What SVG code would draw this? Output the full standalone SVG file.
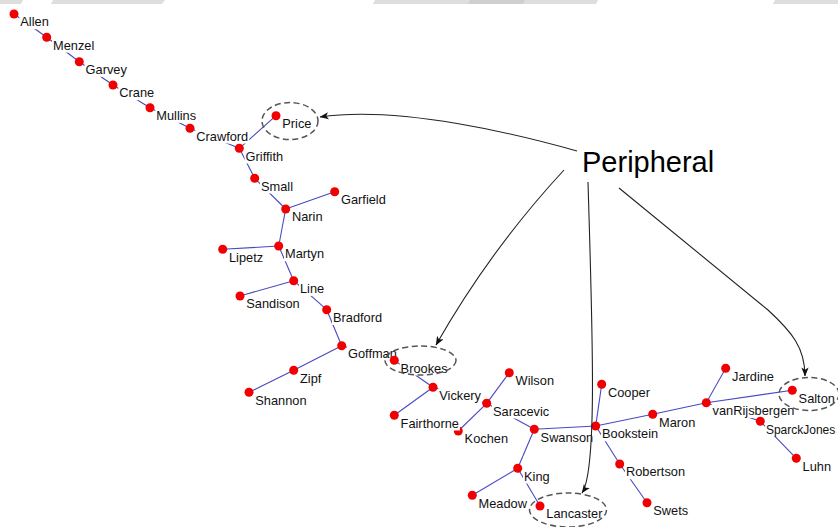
<svg xmlns="http://www.w3.org/2000/svg" width="838" height="527" viewBox="0 0 838 527">
  <style>
    .edge { stroke: #4848c4; stroke-width: 1.1; fill: none; }
    .dot { fill: #f00000; }
    .bg { fill: #ffffff; }
    .lbl { font-family: "Liberation Sans", Arial, sans-serif; font-size: 12.8px; fill: #111; }
    .lbl.tight { font-size: 12px; }
    .ring { fill: none; stroke: #555; stroke-width: 1.5; stroke-dasharray: 6 3.5; }
    .pointer { fill: none; stroke: #222; stroke-width: 1.1; marker-end: url(#arrowhead); }
    .title { font-family: "Liberation Sans", Arial, sans-serif; font-size: 29px; fill: #000; }
    .band { fill: #dedede; }
  </style>
  <defs>
    <marker id="arrowhead" viewBox="0 0 10 8" refX="9.5" refY="4" markerWidth="9" markerHeight="7.5" orient="auto" markerUnits="userSpaceOnUse">
      <path d="M0,0 L10,4 L0,8 L2.5,4 z" fill="#111"/>
    </marker>
  </defs>

  <rect width="838" height="527" fill="#ffffff"/>

  <!-- faint strip along the top edge -->
  <g id="top-strip">
    <polygon class="band" points="0,0 23,0 21,4 0,4"/>
    <polygon class="band" points="53,0 165,0 162,4 51,4"/>
    <polygon class="band" points="375,0 598,0 596,4 373,4"/>
    <polygon fill="#cfcfcf" points="470,0 525,0 523,4 468,4"/>
    <polygon class="band" points="775,0 838,0 838,4 773,4"/>
  </g>

  <!-- tree links -->
  <g id="connectors">
    <line class="edge" x1="14" y1="14" x2="46.7" y2="37.3"/>
    <line class="edge" x1="46.7" y1="37.3" x2="79.3" y2="61.7"/>
    <line class="edge" x1="79.3" y1="61.7" x2="113" y2="85"/>
    <line class="edge" x1="113" y1="85" x2="150" y2="107.7"/>
    <line class="edge" x1="150" y1="107.7" x2="190" y2="128.3"/>
    <line class="edge" x1="190" y1="128.3" x2="239.3" y2="148.3"/>
    <line class="edge" x1="239.3" y1="148.3" x2="276" y2="115.7"/>
    <line class="edge" x1="239.3" y1="148.3" x2="254.7" y2="178.3"/>
    <line class="edge" x1="254.7" y1="178.3" x2="285.7" y2="209"/>
    <line class="edge" x1="285.7" y1="209" x2="334.7" y2="191.7"/>
    <line class="edge" x1="285.7" y1="209" x2="278.7" y2="246"/>
    <line class="edge" x1="278.7" y1="246" x2="222.7" y2="249.3"/>
    <line class="edge" x1="278.7" y1="246" x2="293.7" y2="280.7"/>
    <line class="edge" x1="293.7" y1="280.7" x2="240" y2="296"/>
    <line class="edge" x1="293.7" y1="280.7" x2="326.7" y2="309.7"/>
    <line class="edge" x1="326.7" y1="309.7" x2="341.7" y2="345.7"/>
    <line class="edge" x1="341.7" y1="345.7" x2="293.7" y2="370.3"/>
    <line class="edge" x1="293.7" y1="370.3" x2="249" y2="392.3"/>
    <line class="edge" x1="341.7" y1="345.7" x2="394.3" y2="360.3"/>
    <line class="edge" x1="394.3" y1="360.3" x2="433" y2="387.3"/>
    <line class="edge" x1="433" y1="387.3" x2="394.3" y2="415.3"/>
    <line class="edge" x1="433" y1="387.3" x2="486.7" y2="403.3"/>
    <line class="edge" x1="486.7" y1="403.3" x2="509.3" y2="372.7"/>
    <line class="edge" x1="486.7" y1="403.3" x2="458.3" y2="431"/>
    <line class="edge" x1="486.7" y1="403.3" x2="534.3" y2="429.3"/>
    <line class="edge" x1="534.3" y1="429.3" x2="517.7" y2="468.3"/>
    <line class="edge" x1="517.7" y1="468.3" x2="472.3" y2="495.3"/>
    <line class="edge" x1="517.7" y1="468.3" x2="540" y2="506"/>
    <line class="edge" x1="534.3" y1="429.3" x2="595.7" y2="426"/>
    <line class="edge" x1="595.7" y1="426" x2="601.7" y2="384.3"/>
    <line class="edge" x1="595.7" y1="426" x2="619.7" y2="464"/>
    <line class="edge" x1="619.7" y1="464" x2="647" y2="502.7"/>
    <line class="edge" x1="595.7" y1="426" x2="652.7" y2="414.3"/>
    <line class="edge" x1="652.7" y1="414.3" x2="706.3" y2="402.7"/>
    <line class="edge" x1="706.3" y1="402.7" x2="725.7" y2="368.3"/>
    <line class="edge" x1="706.3" y1="402.7" x2="792.3" y2="390.3"/>
    <line class="edge" x1="706.3" y1="402.7" x2="760.3" y2="421.3"/>
    <line class="edge" x1="760.3" y1="421.3" x2="796.3" y2="458.3"/>
  </g>

  <!-- author nodes: dot plus label on an opaque backing -->
  <g id="n-Allen" transform="translate(14,14)"><circle class="dot" r="4.5"/><rect class="bg" x="5.3" y="1" width="30.5" height="14.2"/><text class="lbl" x="6.3" y="12.3">Allen</text></g>
  <g id="n-Menzel" transform="translate(46.7,37.3)"><circle class="dot" r="4.5"/><rect class="bg" x="5.3" y="1" width="43.3" height="14.2"/><text class="lbl" x="6.3" y="12.3">Menzel</text></g>
  <g id="n-Garvey" transform="translate(79.3,61.7)"><circle class="dot" r="4.5"/><rect class="bg" x="5.3" y="1" width="43.3" height="14.2"/><text class="lbl" x="6.3" y="12.3">Garvey</text></g>
  <g id="n-Crane" transform="translate(113,85)"><circle class="dot" r="4.5"/><rect class="bg" x="5.3" y="1" width="36.9" height="14.2"/><text class="lbl" x="6.3" y="12.3">Crane</text></g>
  <g id="n-Mullins" transform="translate(150,107.7)"><circle class="dot" r="4.5"/><rect class="bg" x="5.3" y="1" width="41.8" height="14.2"/><text class="lbl" x="6.3" y="12.3">Mullins</text></g>
  <g id="n-Crawford" transform="translate(190,128.3)"><circle class="dot" r="4.5"/><rect class="bg" x="5.3" y="1" width="53.9" height="14.2"/><text class="lbl" x="6.3" y="12.3">Crawford</text></g>
  <g id="n-Griffith" transform="translate(239.3,148.3)"><circle class="dot" r="4.5"/><rect class="bg" x="5.3" y="1" width="39.7" height="14.2"/><text class="lbl" x="6.3" y="12.3">Griffith</text></g>
  <g id="n-Price" transform="translate(276,115.7)"><circle class="dot" r="4.5"/><rect class="bg" x="5.3" y="1" width="31.2" height="14.2"/><text class="lbl" x="6.3" y="12.3">Price</text></g>
  <g id="n-Small" transform="translate(254.7,178.3)"><circle class="dot" r="4.5"/><rect class="bg" x="5.3" y="1" width="34" height="14.2"/><text class="lbl" x="6.3" y="12.3">Small</text></g>
  <g id="n-Narin" transform="translate(285.7,209)"><circle class="dot" r="4.5"/><rect class="bg" x="5.3" y="1" width="32.6" height="14.2"/><text class="lbl" x="6.3" y="12.3">Narin</text></g>
  <g id="n-Garfield" transform="translate(334.7,191.7)"><circle class="dot" r="4.5"/><rect class="bg" x="5.3" y="1" width="46.8" height="14.2"/><text class="lbl" x="6.3" y="12.3">Garfield</text></g>
  <g id="n-Martyn" transform="translate(278.7,246)"><circle class="dot" r="4.5"/><rect class="bg" x="5.3" y="1" width="41.1" height="14.2"/><text class="lbl" x="6.3" y="12.3">Martyn</text></g>
  <g id="n-Lipetz" transform="translate(222.7,249.3)"><circle class="dot" r="4.5"/><rect class="bg" x="5.3" y="1" width="36.2" height="14.2"/><text class="lbl" x="6.3" y="12.3">Lipetz</text></g>
  <g id="n-Line" transform="translate(293.7,280.7)"><circle class="dot" r="4.5"/><rect class="bg" x="5.3" y="1" width="26.2" height="14.2"/><text class="lbl" x="6.3" y="12.3">Line</text></g>
  <g id="n-Sandison" transform="translate(240,296)"><circle class="dot" r="4.5"/><rect class="bg" x="5.3" y="1" width="55.4" height="14.2"/><text class="lbl" x="6.3" y="12.3">Sandison</text></g>
  <g id="n-Bradford" transform="translate(326.7,309.7)"><circle class="dot" r="4.5"/><rect class="bg" x="5.3" y="1" width="51.1" height="14.2"/><text class="lbl" x="6.3" y="12.3">Bradford</text></g>
  <g id="n-Goffman" transform="translate(341.7,345.7)"><circle class="dot" r="4.5"/><rect class="bg" x="5.3" y="1" width="51.1" height="14.2"/><text class="lbl" x="6.3" y="12.3">Goffman</text></g>
  <g id="n-Zipf" transform="translate(293.7,370.3)"><circle class="dot" r="4.5"/><rect class="bg" x="5.3" y="1" width="23.3" height="14.2"/><text class="lbl" x="6.3" y="12.3">Zipf</text></g>
  <g id="n-Shannon" transform="translate(249,392.3)"><circle class="dot" r="4.5"/><rect class="bg" x="5.3" y="1" width="53.2" height="14.2"/><text class="lbl" x="6.3" y="12.3">Shannon</text></g>
  <g id="n-Brookes" transform="translate(394.3,360.3)"><circle class="dot" r="4.5"/><rect class="bg" x="5.3" y="1" width="49" height="14.2"/><text class="lbl" x="6.3" y="12.3">Brookes</text></g>
  <g id="n-Vickery" transform="translate(433,387.3)"><circle class="dot" r="4.5"/><rect class="bg" x="5.3" y="1" width="44" height="14.2"/><text class="lbl" x="6.3" y="12.3">Vickery</text></g>
  <g id="n-Kochen" transform="translate(458.3,431)"><circle class="dot" r="4.5"/><rect class="bg" x="5.3" y="1" width="45.4" height="14.2"/><text class="lbl" x="6.3" y="12.3">Kochen</text></g>
  <g id="n-Fairthorne" transform="translate(394.3,415.3)"><circle class="dot" r="4.5"/><rect class="bg" x="5.3" y="1" width="60.3" height="14.2"/><text class="lbl" x="6.3" y="12.3">Fairthorne</text></g>
  <g id="n-Wilson" transform="translate(509.3,372.7)"><circle class="dot" r="4.5"/><rect class="bg" x="5.3" y="1" width="40.4" height="14.2"/><text class="lbl" x="6.3" y="12.3">Wilson</text></g>
  <g id="n-Saracevic" transform="translate(486.7,403.3)"><circle class="dot" r="4.5"/><rect class="bg" x="5.3" y="1" width="58.2" height="14.2"/><text class="lbl" x="6.3" y="12.3">Saracevic</text></g>
  <g id="n-Swanson" transform="translate(534.3,429.3)"><circle class="dot" r="4.5"/><rect class="bg" x="5.3" y="1" width="54.6" height="14.2"/><text class="lbl" x="6.3" y="12.3">Swanson</text></g>
  <g id="n-King" transform="translate(517.7,468.3)"><circle class="dot" r="4.5"/><rect class="bg" x="5.3" y="1" width="27.6" height="14.2"/><text class="lbl" x="6.3" y="12.3">King</text></g>
  <g id="n-Meadow" transform="translate(472.3,495.3)"><circle class="dot" r="4.5"/><rect class="bg" x="5.3" y="1" width="50.4" height="14.2"/><text class="lbl" x="6.3" y="12.3">Meadow</text></g>
  <g id="n-Lancaster" transform="translate(540,506)"><circle class="dot" r="4.5"/><rect class="bg" x="5.3" y="1" width="58.2" height="14.2"/><text class="lbl" x="6.3" y="12.3">Lancaster</text></g>
  <g id="n-Cooper" transform="translate(601.7,384.3)"><circle class="dot" r="4.5"/><rect class="bg" x="5.3" y="1" width="44" height="14.2"/><text class="lbl" x="6.3" y="12.3">Cooper</text></g>
  <g id="n-Bookstein" transform="translate(595.7,426)"><circle class="dot" r="4.5"/><rect class="bg" x="5.3" y="1" width="58.2" height="14.2"/><text class="lbl" x="6.3" y="12.3">Bookstein</text></g>
  <g id="n-Maron" transform="translate(652.7,414.3)"><circle class="dot" r="4.5"/><rect class="bg" x="5.3" y="1" width="38.3" height="14.2"/><text class="lbl" x="6.3" y="12.3">Maron</text></g>
  <g id="n-Robertson" transform="translate(619.7,464)"><circle class="dot" r="4.5"/><rect class="bg" x="5.3" y="1" width="61" height="14.2"/><text class="lbl" x="6.3" y="12.3">Robertson</text></g>
  <g id="n-Swets" transform="translate(647,502.7)"><circle class="dot" r="4.5"/><rect class="bg" x="5.3" y="1" width="36.9" height="14.2"/><text class="lbl" x="6.3" y="12.3">Swets</text></g>
  <g id="n-Jardine" transform="translate(725.7,368.3)"><circle class="dot" r="4.5"/><rect class="bg" x="5.3" y="1" width="44" height="14.2"/><text class="lbl" x="6.3" y="12.3">Jardine</text></g>
  <g id="n-vanRijsbergen" transform="translate(706.3,402.7)"><circle class="dot" r="4.5"/><rect class="bg" x="5.3" y="1" width="83.8" height="14.2"/><text class="lbl" x="6.3" y="12.3">vanRijsbergen</text></g>
  <g id="n-Salton" transform="translate(792.3,390.3)"><circle class="dot" r="4.5"/><rect class="bg" x="5.3" y="1" width="38.3" height="14.2"/><text class="lbl" x="6.3" y="12.3">Salton</text></g>
  <g id="n-SparckJones" transform="translate(760.3,421.3)"><circle class="dot" r="4.5"/><rect class="bg" x="4.8" y="1" width="71" height="14.2"/><text class="lbl tight" x="5.6" y="12.3">SparckJones</text></g>
  <g id="n-Luhn" transform="translate(796.3,458.3)"><circle class="dot" r="4.5"/><rect class="bg" x="5.3" y="1" width="30.5" height="14.2"/><text class="lbl" x="6.3" y="12.3">Luhn</text></g>

  <!-- dashed rings around the peripheral authors -->
  <g id="rings">
    <ellipse class="ring" cx="290" cy="121" rx="28" ry="18.5"/>
    <ellipse class="ring" cx="420.5" cy="360.5" rx="35.5" ry="14.5"/>
    <ellipse class="ring" cx="568" cy="510" rx="38.5" ry="17"/>
    <ellipse class="ring" cx="809" cy="394" rx="30" ry="16.5"/>
  </g>

  <!-- callout and its pointers -->
  <g id="peripheral">
    <text class="title" x="582" y="172">Peripheral</text>
    <path class="pointer" d="M577,151 C520,135 400,105 320,117"/>
    <path class="pointer" d="M564,170 Q490,250 436,345"/>
    <path class="pointer" d="M588,182 C592,320 598,470 582,493"/>
    <path class="pointer" d="M619,188 L768,310 C792,332 805,348 805,376"/>
  </g>
</svg>
